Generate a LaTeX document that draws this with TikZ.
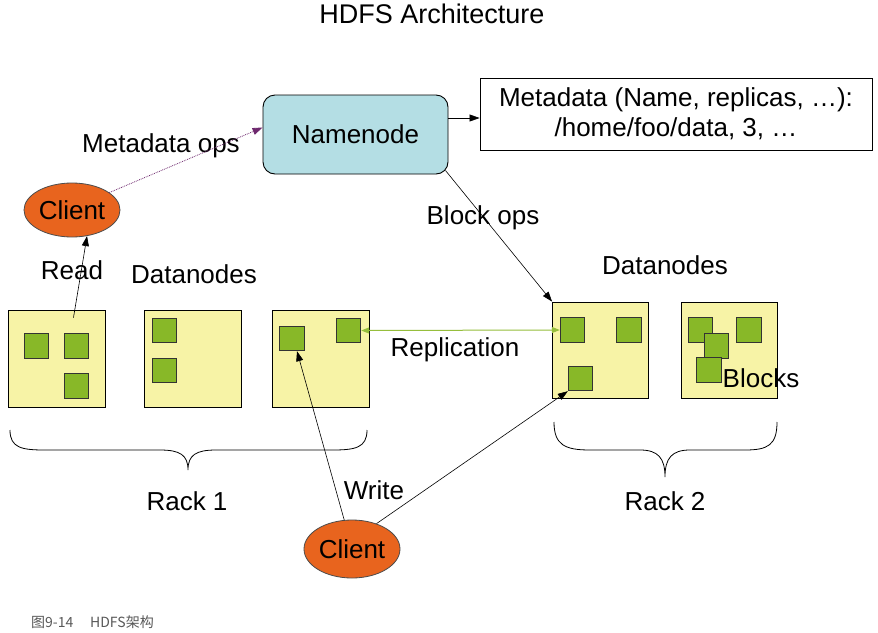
\documentclass[tikz,border=0pt]{standalone}
\usepackage{fontspec}
\setmainfont{Liberation Sans}
\newfontfamily\cjk{Noto Sans CJK SC}
\usetikzlibrary{arrows.meta,shapes.geometric}
\definecolor{dnyellow}{RGB}{247,243,166}
\definecolor{blkgreen}{RGB}{136,184,40}
\definecolor{nnblue}{RGB}{180,222,228}
\definecolor{clorange}{RGB}{232,100,30}
\definecolor{repgreen}{RGB}{150,190,60}
\definecolor{metapurple}{RGB}{110,40,110}
\begin{document}
\begin{tikzpicture}[x=1pt,y=-1pt, font=\fontsize{26}{30}\selectfont,
  dnbox/.style={draw=black, line width=0.9pt, fill=dnyellow, minimum width=97pt, minimum height=97pt, inner sep=0pt},
  blk/.style={draw=black!80, line width=0.9pt, fill=blkgreen, minimum size=24.5pt, inner sep=0pt},
  client/.style={ellipse, draw=black!70, line width=0.8pt, fill=clorange, minimum width=96pt, inner sep=0pt},
  lbl/.style={inner sep=0pt},
  arr/.style={-{Triangle[length=10pt,width=7pt]}, line width=0.6pt},
  brace/.style={line width=0.8pt}]
\useasboundingbox (0,0) rectangle (878,632);
\fill[white] (0,0) rectangle (878,632);

% title
\node[lbl, font=\fontsize{27}{30}\selectfont] (title) at (432,14) {HDFS Architecture};

% namenode and metadata
\node[draw=black, line width=0.9pt, fill=nnblue, rounded corners=12pt, minimum width=185pt, minimum height=79pt, inner sep=0pt] (nn) at (355.5,134.5) {Namenode};
\node[draw=black, line width=0.9pt, fill=white, minimum width=392pt, minimum height=72pt, inner sep=0pt, align=center] (meta) at (676,114) {Metadata (Name, replicas, …):\\/home/foo/data, 3, …};

% clients
\node[client, minimum height=54pt] (c1) at (72,210) {Client};
\node[client, minimum height=58pt] (c2) at (352,549) {Client};

% datanodes rack 1
\node[dnbox] (dn1) at (56.5,358.5) {};
\node[dnbox] (dn2) at (192.5,358.5) {};
\node[dnbox] (dn3) at (320.5,358.5) {};
% datanodes rack 2
\node[dnbox, minimum width=96pt, minimum height=96pt] (dn4) at (600.5,350) {};
\node[dnbox, minimum width=96pt, minimum height=96pt] (dn5) at (729,350) {};

% blocks
\node[blk] (b11) at (36.5,346) {};
\node[blk] (b12) at (76.5,346) {};
\node[blk] (b13) at (76.5,386) {};
\node[blk] (b21) at (164.5,330.5) {};
\node[blk] (b22) at (164.5,370.5) {};
\node[blk] (b31) at (292,338.5) {};
\node[blk] (b32) at (348.5,330.5) {};
\node[blk] (b41) at (572.5,330) {};
\node[blk] (b42) at (629,330) {};
\node[blk] (b43) at (580.5,378.5) {};
\node[blk] (b51) at (700.5,330) {};
\node[blk] (b52) at (749,330) {};
\node[blk] (b53) at (716.5,346) {};
\node[blk] (b54) at (709,370) {};

% labels
\node[lbl] (lmeta) at (161,146) {Metadata ops};
\node[lbl] (lblock) at (483,218) {Block ops};
\node[lbl] (lread) at (72,270) {Read};
\node[lbl] (ldn1) at (194,274) {Datanodes};
\node[lbl] (ldn2) at (665,265) {Datanodes};
\node[lbl] (lrep) at (455,350) {Replication};
\node[lbl] (lblocks) at (761,378) {Blocks};
\node[lbl] (lrack1) at (187,501) {Rack 1};
\node[lbl] (lrack2) at (665,501) {Rack 2};
\node[lbl] (lwrite) at (374,490) {Write};

% caption
\node[anchor=west, inner sep=0pt, text=black!65, font=\cjk\fontsize{14}{16}\selectfont] (cap) at (31,622) {图9-14\hspace{1.2em}HDFS架构};

% connectors
\draw[metapurple, densely dotted, line width=0.8pt, -{Triangle[length=10pt,width=7pt]}] (c1.25) -- ([yshift=7pt]nn.west);
\draw[arr] ([yshift=16.5pt]nn.east) -- ([yshift=16.5pt]nn.east -| meta.west);
\draw[arr] ([xshift=-3pt,yshift=4pt]nn.south east) -- (dn4.north west);
\draw[arr] ([xshift=17pt,yshift=-8pt]dn1.north) -- (c1.-60);
\draw[arr] (c2.105) -- ([xshift=5pt]b31.south);
\draw[arr] (c2.46) -- (b43.south west);
\draw[repgreen, line width=1pt, {Triangle[length=8pt,width=6pt]}-{Triangle[length=8pt,width=6pt]}] (b32.east) -- (b41.west);

% braces
\draw[brace] (10,430) .. controls (10,448) and (22,450) .. (45,450) -- (160,450) .. controls (180,450) and (188,455) .. (188,470) .. controls (188,455) and (196,450) .. (216,450) -- (332,450) .. controls (355,450) and (367,448) .. (367,430);
\draw[brace] (554,422) .. controls (554,445) and (565,450) .. (590,450) -- (640,450) .. controls (658,450) and (665,458) .. (665,477) .. controls (665,458) and (672,450) .. (690,450) -- (745,450) .. controls (768,450) and (777,445) .. (777,422);
\end{tikzpicture}
\end{document}
